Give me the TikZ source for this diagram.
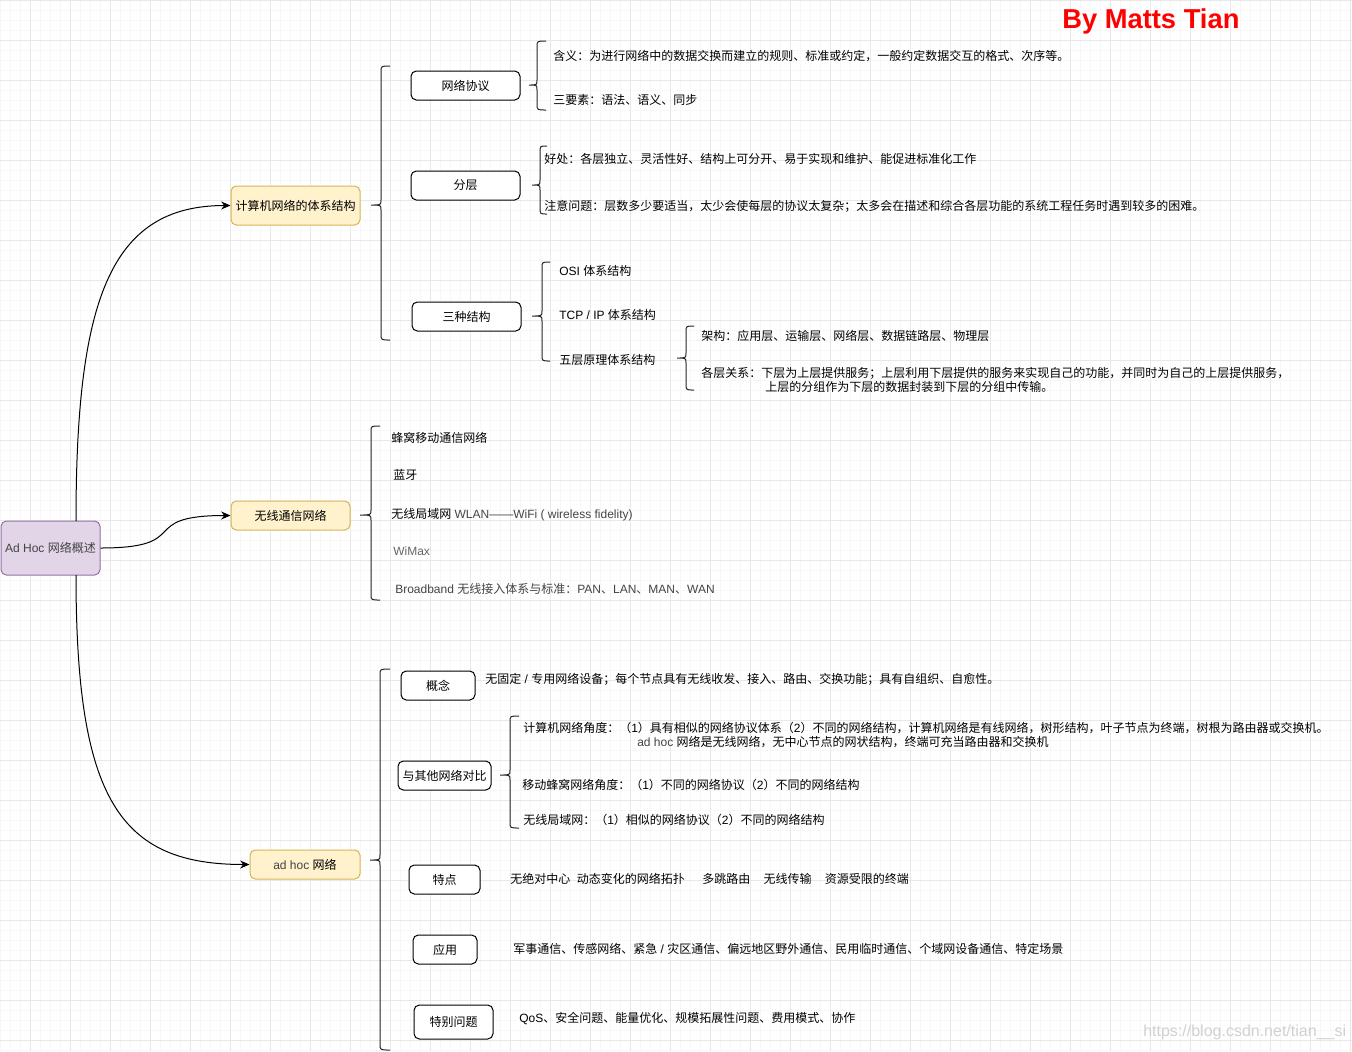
\documentclass[tikz,border=0pt]{standalone}
\usepackage{fontspec}
\setmainfont{Liberation Sans}
\newfontfamily\cjkfont{Noto Sans CJK SC}
\usetikzlibrary{arrows.meta}
\XeTeXinterchartokenstate=1
\newXeTeXintercharclass\CJKcls
\makeatletter
\def\setcjkrange#1#2{\count@=#1\relax\loop\XeTeXcharclass\count@=\CJKcls\relax\ifnum\count@<#2\relax\advance\count@ by 1\relax\repeat}
\makeatother
\setcjkrange{"3000}{"303F}
\setcjkrange{"4E00}{"9FFF}
\setcjkrange{"FF00}{"FFEF}
\XeTeXinterchartoks 0 \CJKcls = {\begingroup\cjkfont}
\XeTeXinterchartoks 4095 \CJKcls = {\begingroup\cjkfont}
\XeTeXinterchartoks \CJKcls 0 = {\endgroup}
\XeTeXinterchartoks \CJKcls 4095 = {\endgroup}
\definecolor{rootfill}{HTML}{E1D5E7}
\definecolor{rootdraw}{HTML}{9673A6}
\definecolor{yfill}{HTML}{FFF2CC}
\definecolor{ydraw}{HTML}{D6B656}
\definecolor{gminor}{HTML}{F7F7F7}
\definecolor{gmajor}{HTML}{E8E8E8}
\definecolor{txtgray}{HTML}{444444}
\newcommand\curlyb[6]{\draw[bracestyle] (#3,#4) .. controls (#2,#4) .. (#2,#4+6) -- (#2,#5-5) .. controls (#2,#5) .. (#1,#5) .. controls (#2,#5) .. (#2,#5+5) -- (#2,#6-6) .. controls (#2,#6) .. (#3,#6);}
\tikzset{
  sz/.style 2 args={minimum width=#1*0.75pt, minimum height=#2*0.75pt},
  basebox/.style={rounded corners=4pt, line width=0.75pt, inner sep=0pt, font=\fontsize{9}{10.5}\selectfont},
  rootbox/.style={basebox, draw=rootdraw, fill=rootfill},
  ybox/.style={basebox, draw=ydraw, fill=yfill},
  wbox/.style={basebox, draw=black, fill=white},
  txt/.style={anchor=west, inner sep=0pt, align=left, font=\fontsize{9}{10.5}\selectfont},
  edge/.style={line width=0.75pt, -{Stealth[length=7pt,width=6pt]}},
  bracestyle/.style={line width=0.75pt, black!85},
}
\begin{document}
\begin{tikzpicture}[x=0.75pt,y=-0.75pt]
\useasboundingbox (0,0) rectangle (1352,1051);
\fill[white] (0,0) rectangle (1352,1051);
% grid
\foreach \x in {0,10,...,1350} \draw[gminor, line width=0.75pt] (\x,0) -- (\x,1051);
\foreach \y in {0,10,...,1050} \draw[gminor, line width=0.75pt] (0,\y) -- (1352,\y);
\foreach \x in {30,70,...,1350} \draw[gmajor, line width=0.75pt] (\x,0) -- (\x,1051);
\foreach \y in {0,40,...,1050} \draw[gmajor, line width=0.75pt] (0,\y) -- (1352,\y);

% title
\node[anchor=west, inner sep=0pt, text=red, font=\fontsize{20.5}{24}\selectfont\bfseries] (title) at (1062,21) {By Matts Tian};

% root and level 1
\node[rootbox, sz={99}{54}, text=txtgray] (root) at (50.5,548) {Ad Hoc 网络概述};
\node[ybox, sz={129}{39}] (A1) at (295.5,205.5) {计算机网络的体系结构};
\node[ybox, sz={119}{29}] (A2) at (290.5,515.5) {无线通信网络};
\node[ybox, sz={110}{29}] (A3) at (305,864.5) {\textcolor{txtgray}{ad hoc} 网络};

\coordinate (rtop) at (76,521);
\coordinate (rbot) at (76,575);
\draw[edge] (rtop) .. controls (76,300) and (110,205.5) .. (A1.west);
\draw[edge] (root.east) .. controls (195,548) and (135,515.5) .. (A2.west);
\draw[edge] (rbot) .. controls (76,800) and (120,864.5) .. (A3.west);

% level 2 boxes
\node[wbox, sz={109}{29}] (B1) at (465.5,85.5) {网络协议};
\node[wbox, sz={109}{29}] (B2) at (465.5,185.5) {分层};
\node[wbox, sz={109}{29}] (B3) at (466.5,316.5) {三种结构};
\node[wbox, sz={74}{29}] (C1) at (438,685.5) {概念};
\node[wbox, sz={93}{29}] (C2) at (444.5,775.5) {与其他网络对比};
\node[wbox, sz={71}{29}] (C3) at (444.5,879.5) {特点};
\node[wbox, sz={64}{29}] (C4) at (445,949.5) {应用};
\node[wbox, sz={79}{34}] (C5) at (453.5,1022) {特别问题};

% brackets
\curlyb{371}{381}{390}{66}{205}{340}
\curlyb{529}{537}{546}{41}{85}{110}
\curlyb{532}{540}{547}{146}{185}{214}
\curlyb{532}{542}{550}{262}{316}{361}
\curlyb{677}{686}{694}{326}{358}{390}
\curlyb{360}{371}{380}{426}{515}{600}
\curlyb{370}{380}{390}{669}{860}{1050}
\curlyb{500}{510}{519}{716}{775}{828}

% texts
\node[txt] (t1) at (553,56) {含义：为进行网络中的数据交换而建立的规则、标准或约定，一般约定数据交互的格式、次序等。};
\node[txt] (t2) at (553,100) {三要素：语法、语义、同步};
\node[txt] (t3) at (544,159) {好处：各层独立、灵活性好、结构上可分开、易于实现和维护、能促进标准化工作};
\node[txt] (t4) at (544,206) {注意问题：层数多少要适当，太少会使每层的协议太复杂；太多会在描述和综合各层功能的系统工程任务时遇到较多的困难。};
\node[txt] (t5) at (559,271) {OSI 体系结构};
\node[txt] (t6) at (559,315) {TCP / IP 体系结构};
\node[txt] (t7) at (559,360) {五层原理体系结构};
\node[txt] (t8) at (701,336) {架构：应用层、运输层、网络层、数据链路层、物理层};
\node[txt] (t9) at (701,380) {各层关系：下层为上层提供服务；上层利用下层提供的服务来实现自己的功能，并同时为自己的上层提供服务，\\\hspace*{48pt}上层的分组作为下层的数据封装到下层的分组中传输。};

\node[txt] (w1) at (391,438) {蜂窝移动通信网络};
\node[txt] (w2) at (393,475) {蓝牙};
\node[txt] (w3) at (391,515) {无线局域网 \textcolor{txtgray}{WLAN——WiFi ( wireless fidelity)}};
\node[txt, text=black!60] (w4) at (393,551) {WiMax};
\node[txt, text=txtgray] (w5) at (395,589) {Broadband 无线接入体系与标准：PAN、LAN、MAN、WAN};

\node[txt] (d1) at (485,679) {无固定 / 专用网络设备；每个节点具有无线收发、接入、路由、交换功能；具有自组织、自愈性。};
\node[txt] (d2) at (523,735) {计算机网络角度：（1）具有相似的网络协议体系（2）不同的网络结构，计算机网络是有线网络，树形结构，叶子节点为终端，树根为路由器或交换机。\\\hspace*{85.5pt}\textcolor{txtgray}{ad hoc} 网络是无线网络，无中心节点的网状结构，终端可充当路由器和交换机};
\node[txt] (d3) at (522,785) {移动蜂窝网络角度：（1）不同的网络协议（2）不同的网络结构};
\node[txt] (d4) at (523,820) {无线局域网：（1）相似的网络协议（2）不同的网络结构};
\node[txt] (d5) at (510,879) {无绝对中心\hspace{5pt}动态变化的网络拓扑\hspace{13pt}多跳路由\hspace{10pt}无线传输\hspace{10pt}资源受限的终端};
\node[txt] (d6) at (513,949) {军事通信、传感网络、紧急 / 灾区通信、偏远地区野外通信、民用临时通信、个域网设备通信、特定场景};
\node[txt] (d7) at (519,1019) {QoS、安全问题、能量优化、规模拓展性问题、费用模式、协作};

\node[txt, text=black!18, font=\fontsize{12}{14}\selectfont] (wm) at (1143,1032) {https://blog.csdn.net/tian\_\_si};
\end{tikzpicture}
\end{document}
